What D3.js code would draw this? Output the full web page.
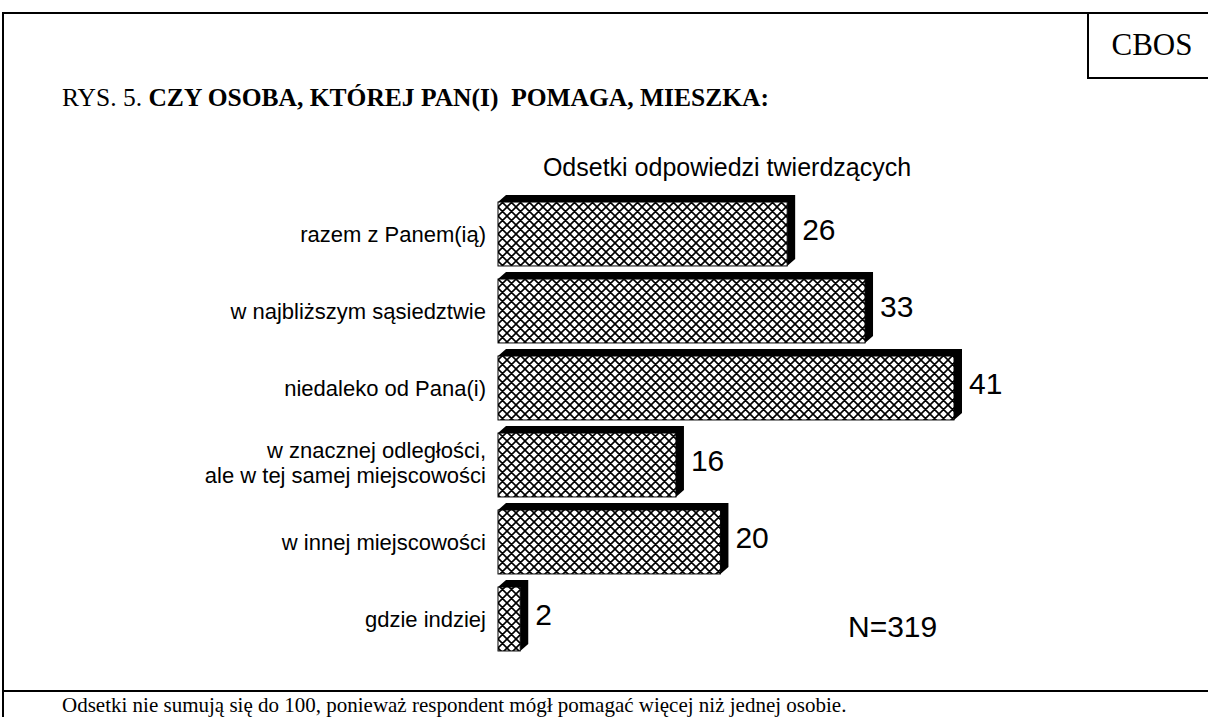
<!DOCTYPE html>
<html>
<head>
<meta charset="utf-8">
<script src="https://cdn.jsdelivr.net/npm/d3@7"></script>
<style>
  body { margin: 0; background: #fff; }
</style>
</head>
<body>
<div id="wykres"></div>
<script>
// dane z rysunku
const kategorie = [
  ["razem z Panem(ią)"],
  ["w najbliższym sąsiedztwie"],
  ["niedaleko od Pana(i)"],
  ["w znacznej odległości,", "ale w tej samej miejscowości"],
  ["w innej miejscowości"],
  ["gdzie indziej"]
];
const wartosci = [26, 33, 41, 16, 20, 2];
const tytulNr = "RYS. 5. ";
const tytul = "CZY OSOBA, KTÓREJ PAN(I)  POMAGA, MIESZKA:";
const podtytul = "Odsetki odpowiedzi twierdzących";
const przypis = "Odsetki nie sumują się do 100, ponieważ respondent mógł pomagać więcej niż jednej osobie.";
const liczebnosc = "N=319";

const W = 1208, H = 717;
const glebX = 8, glebY = 7; // efekt 3D
const serif = "Liberation Serif, Times New Roman, serif";
const sans = "Liberation Sans, Arial, sans-serif";

const svg = d3.select("#wykres").append("svg")
  .attr("width", W).attr("height", H);

// wzór kratki
const p = 9;
const defs = svg.append("defs");
const wz = defs.append("pattern")
  .attr("id", "kratka")
  .attr("patternUnits", "userSpaceOnUse")
  .attr("x", 498).attr("y", 0)
  .attr("width", p).attr("height", p);
wz.append("rect").attr("width", p).attr("height", p).attr("fill", "#fff");
wz.append("path")
  .attr("d", `M-2,-2L${p + 2},${p + 2}M-2,${p + 2}L${p + 2},-2` +
             `M-2,${p - 2}L2,${p + 2}M${p - 2},-2L${p + 2},2` +
             `M-2,2L2,-2M${p - 2},${p + 2}L${p + 2},${p - 2}`)
  .attr("stroke", "#000").attr("stroke-width", 1.6);

// ramka
svg.append("path")
  .attr("d", `M3,${H}V13H${W}`)
  .attr("fill", "none").attr("stroke", "#000").attr("stroke-width", 2);
svg.append("line")
  .attr("x1", 3).attr("x2", W).attr("y1", 691).attr("y2", 691)
  .attr("stroke", "#000").attr("stroke-width", 2);
svg.append("path")
  .attr("d", `M1088,13V78H${W}`)
  .attr("fill", "none").attr("stroke", "#000").attr("stroke-width", 2);
svg.append("text")
  .attr("x", 1152).attr("y", 55)
  .attr("text-anchor", "middle")
  .style("font-family", serif)
  .style("font-size", "31px")
  .text("CBOS");

// tytuł
const t = svg.append("text")
  .attr("x", 62).attr("y", 106)
  .style("font-family", serif)
  .style("font-size", "25.5px")
  .style("white-space", "pre");
t.append("tspan").text(tytulNr);
t.append("tspan").style("font-weight", "bold").text(tytul);

svg.append("text")
  .attr("x", 727).attr("y", 176)
  .attr("text-anchor", "middle")
  .style("font-family", sans)
  .style("font-size", "25px")
  .text(podtytul);

// skale
const x = d3.scaleLinear().domain([0, 41]).range([498, 954]);
const y = d3.scaleBand()
  .domain(d3.range(wartosci.length))
  .range([195.5, 657.5])
  .paddingInner(0.17)
  .paddingOuter(0.085);

const dane = wartosci.map((v, i) => ({ v: v, etykieta: kategorie[i], i: i }));

const slupki = svg.append("g").selectAll("g")
  .data(dane)
  .join("g");

// cień / głębia
slupki.append("path")
  .attr("d", d => {
    const x0 = x(0), x1 = x(d.v), y0 = y(d.i), y1 = y(d.i) + y.bandwidth();
    return `M${x0},${y0}L${x0 + glebX},${y0 - glebY}L${x1 + glebX},${y0 - glebY}` +
           `L${x1 + glebX},${y1 - glebY}L${x1},${y1}L${x1},${y0}Z`;
  })
  .attr("fill", "#000");

slupki.append("rect")
  .attr("x", x(0))
  .attr("y", d => y(d.i))
  .attr("width", d => x(d.v) - x(0))
  .attr("height", y.bandwidth())
  .attr("fill", "url(#kratka)")
  .attr("stroke", "#000")
  .attr("stroke-width", 1);

// wartości
slupki.append("text")
  .attr("x", d => x(d.v) + 15)
  .attr("y", d => y(d.i) + y.bandwidth() / 2 - 5)
  .attr("dy", "0.35em")
  .style("font-family", sans)
  .style("font-size", "30px")
  .text(d => d.v);

// etykiety kategorii
slupki.append("text")
  .attr("text-anchor", "end")
  .style("font-family", sans)
  .style("font-size", "22px")
  .each(function(d) {
    const n = d.etykieta.length;
    const srodek = y(d.i) + y.bandwidth() / 2 - (n > 1 ? 2 : 0);
    d3.select(this).selectAll("tspan")
      .data(d.etykieta)
      .join("tspan")
      .attr("x", 486)
      .attr("y", (s, k) => srodek + (k - (n - 1) / 2) * 25)
      .attr("dy", "0.35em")
      .text(s => s);
  });

svg.append("text")
  .attr("x", 848).attr("y", 637)
  .style("font-family", sans)
  .style("font-size", "30px")
  .text(liczebnosc);

svg.append("text")
  .attr("x", 62).attr("y", 712)
  .style("font-family", serif)
  .style("font-size", "21px")
  .text(przypis);
</script>
</body>
</html>
